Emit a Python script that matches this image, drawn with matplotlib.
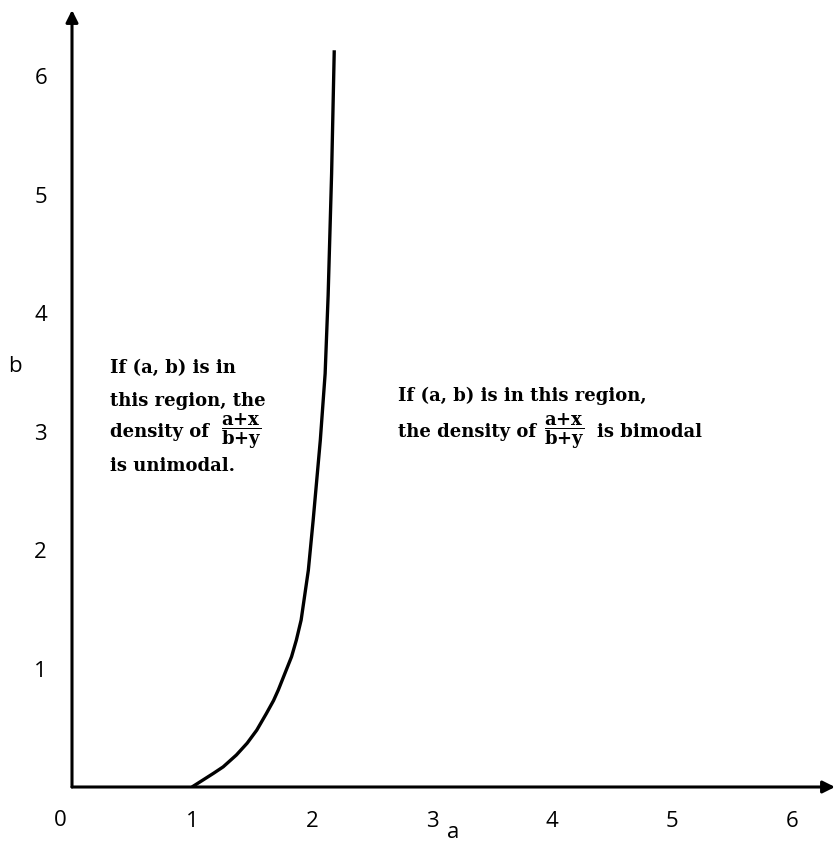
import numpy as np
import matplotlib
matplotlib.use("Agg")
from matplotlib import pyplot as plt

# %% datos (frontera entre unimodal y bimodal)
a_vals = [1.00, 1.07, 1.18, 1.26, 1.37, 1.46, 1.54, 1.62, 1.68, 1.72,
          1.83, 1.87, 1.91, 1.94, 1.97, 2.01, 2.07, 2.11, 2.135, 2.164, 2.186]
b_vals = [0.00, 0.045, 0.116, 0.17, 0.27, 0.37, 0.48, 0.62, 0.73, 0.82,
          1.10, 1.24, 1.41, 1.62, 1.83, 2.25, 2.93, 3.49, 4.15, 5.18, 6.22]

x_ticks = [0, 1, 2, 3, 4, 5, 6]
y_ticks = [1, 2, 3, 4, 5, 6]

left_lines = ["If (a, b) is in", "this region, the", "density of", "is unimodal."]
right_lines = ["If (a, b) is in this region,", "the density of"]
right_tail = "is bimodal"
frac = r"$\dfrac{\mathbf{a{+}x}}{\mathbf{b{+}y}}$"

plt.rcParams['mathtext.fontset'] = 'dejavuserif'

# %% figura
fig = plt.figure(figsize=(8.35, 8.42), dpi=100)
x_max, y_max = 6.36, 6.56
ax = fig.add_axes([72 / 835, 55 / 842, (835 - 72) / 835, (787 - 10) / 842])
ax.set_xlim(0, x_max)
ax.set_ylim(0, y_max)
for s in ax.spines.values():
    s.set_visible(False)

# ejes con flechas
ax.annotate('', xy=(x_max, 0), xytext=(0, 0),
            arrowprops=dict(arrowstyle='-|>', lw=2.2, color='k',
                            mutation_scale=18, shrinkA=0, shrinkB=0))
ax.annotate('', xy=(0, y_max), xytext=(0, 0),
            arrowprops=dict(arrowstyle='-|>', lw=2.2, color='k',
                            mutation_scale=18, shrinkA=0, shrinkB=0))

ax.plot(a_vals, b_vals, color='k', lw=2.4, solid_capstyle='butt',
        solid_joinstyle='round')

tick_font = dict(family='Open Sans', size=16)
ax.set_xticks(x_ticks)
ax.set_yticks(y_ticks)
# el "0" va un poco a la izquierda del eje, se pone aparte
ax.set_xticklabels([''] + [str(v) for v in x_ticks[1:]], **tick_font)
ax.set_yticklabels([str(v) for v in y_ticks], **tick_font)
ax.tick_params(axis='x', length=0, pad=17)
ax.tick_params(axis='y', length=0, pad=18)
fig.text(60 / 835, 1 - 820 / 842, str(x_ticks[0]), fontfamily='Open Sans',
         fontsize=16, ha='center', va='center')
ax.set_xlabel('a', fontfamily='Open Sans', fontsize=16, labelpad=-7)
fig.text(15 / 835, 1 - 366 / 842, 'b', fontfamily='Open Sans', fontsize=16,
         ha='center', va='center')

# textos
txt = dict(family='DejaVu Serif', size=13, weight='bold', va='center', ha='left')
left_y = [3.54, 3.26, 3.00, 2.71]
for line, yy in zip(left_lines, left_y):
    ax.text(0.32, yy, line, **txt)
ax.text(1.41, 3.00, frac, size=13, ha='center', va='center')

ax.text(2.72, 3.30, right_lines[0], **txt)
ax.text(2.72, 3.00, right_lines[1], **txt)
ax.text(4.10, 3.00, frac, size=13, ha='center', va='center')
ax.text(4.38, 3.00, right_tail, **txt)

fig.savefig('out.png', dpi=100)
